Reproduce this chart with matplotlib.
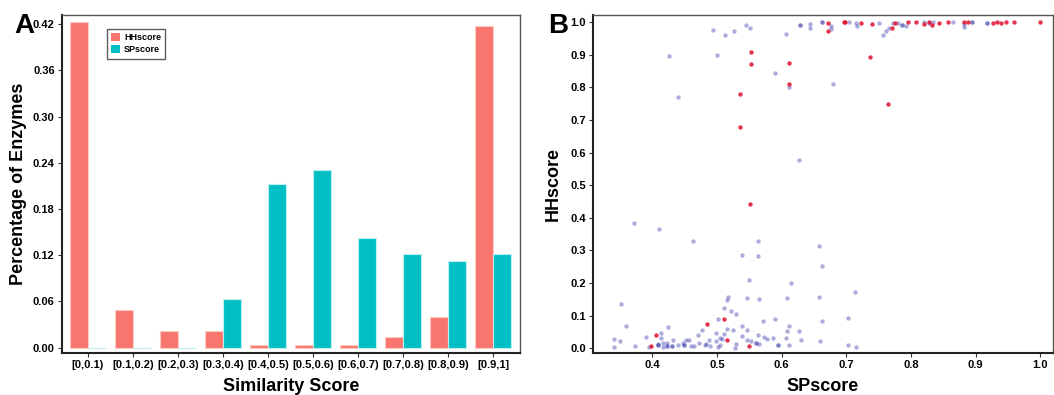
import matplotlib
matplotlib.use("Agg")
import matplotlib.pyplot as plt
import numpy as np
from matplotlib.patches import Patch

plt.rcParams['font.family'] = ['Liberation Sans Narrow', 'Liberation Sans', 'DejaVu Sans']
plt.rcParams['font.weight'] = 'bold'

# ---------------- Panel A data ----------------
categories = ["[0,0.1)", "[0.1,0.2)", "[0.2,0.3)", "[0.3,0.4)", "[0.4,0.5)",
              "[0.5,0.6)", "[0.6,0.7)", "[0.7,0.8)", "[0.8,0.9)", "[0.9,1]"]
hh_pct = [0.423, 0.049, 0.022, 0.022, 0.004, 0.004, 0.004, 0.0135, 0.040, 0.418]
sp_pct = [0.0, 0.0, 0.0, 0.063, 0.212, 0.230, 0.143, 0.121, 0.112, 0.121]
yticks_a = [0.00, 0.06, 0.12, 0.18, 0.24, 0.30, 0.36, 0.42]

# ---------------- Panel B data ----------------
# blue (light) points: SPscore, HHscore
blue_sp = [0.426, 0.440, 0.494, 0.500, 0.513, 0.526, 0.545, 0.551, 0.590, 0.606,
           0.611, 0.626, 0.628, 0.628, 0.643, 0.643, 0.663, 0.663, 0.676, 0.676,
           0.680, 0.704, 0.715, 0.716, 0.751, 0.757, 0.762, 0.766, 0.772, 0.780,
           0.786, 0.786, 0.792, 0.820, 0.828, 0.834, 0.865, 0.882, 0.882, 0.895,
           0.895, 0.917, 0.917,
           0.371, 0.410, 0.462, 0.539, 0.563, 0.563, 0.657, 0.663, 0.549, 0.614,
           0.713, 0.352, 0.517, 0.516, 0.546, 0.565, 0.608, 0.657, 0.510, 0.522,
           0.529, 0.501, 0.589, 0.703, 0.663, 0.571, 0.359, 0.424, 0.538, 0.611,
           0.477, 0.516, 0.524, 0.547, 0.608, 0.626, 0.414, 0.470, 0.499, 0.511,
           0.563, 0.539, 0.572, 0.390, 0.413, 0.504, 0.507, 0.577, 0.587, 0.606,
           0.630, 0.341, 0.350, 0.432, 0.452, 0.456, 0.487, 0.498, 0.546, 0.552,
           0.660, 0.423, 0.447, 0.417, 0.409, 0.472, 0.529, 0.565, 0.560, 0.560,
           0.341, 0.373, 0.394, 0.409, 0.409, 0.422, 0.422, 0.431, 0.431, 0.439,
           0.449, 0.449, 0.459, 0.464, 0.481, 0.483, 0.501, 0.504, 0.528, 0.594,
           0.594, 0.612, 0.703, 0.715, 0.489, 0.416]
blue_hh = [0.896, 0.770, 0.975, 0.899, 0.961, 0.973, 0.991, 0.983, 0.845, 0.963,
           0.802, 0.577, 0.991, 0.991, 0.993, 0.982, 1.000, 1.000, 0.989, 0.978,
           0.809, 1.000, 0.996, 0.989, 0.999, 0.961, 0.972, 0.983, 0.999, 0.999,
           0.990, 0.990, 0.988, 1.000, 0.998, 1.000, 1.000, 0.993, 0.986, 1.000,
           1.000, 0.999, 0.999,
           0.383, 0.365, 0.328, 0.286, 0.329, 0.282, 0.313, 0.251, 0.209, 0.201,
           0.173, 0.136, 0.157, 0.149, 0.154, 0.151, 0.153, 0.157, 0.124, 0.113,
           0.105, 0.091, 0.091, 0.093, 0.084, 0.083, 0.067, 0.064, 0.069, 0.070,
           0.056, 0.059, 0.057, 0.055, 0.054, 0.054, 0.047, 0.041, 0.046, 0.043,
           0.041, 0.037, 0.035, 0.035, 0.033, 0.033, 0.028, 0.028, 0.031, 0.032,
           0.026, 0.028, 0.023, 0.026, 0.026, 0.026, 0.026, 0.021, 0.026, 0.022,
           0.021, 0.017, 0.017, 0.016, 0.014, 0.015, 0.013, 0.012, 0.015, 0.015,
           0.005, 0.007, 0.005, 0.009, 0.009, 0.007, 0.007, 0.007, 0.007, 0.009,
           0.010, 0.010, 0.007, 0.008, 0.009, 0.012, 0.005, 0.009, 0.002, 0.009,
           0.009, 0.009, 0.009, 0.003, 0.007, 0.003]
# red points: SPscore, HHscore
red_sp = [0.553, 0.553, 0.536, 0.536, 0.612, 0.612, 0.671, 0.671, 0.696, 0.698,
          0.722, 0.740, 0.736, 0.765, 0.771, 0.775, 0.795, 0.808, 0.820, 0.828,
          0.832, 0.844, 0.857, 0.882, 0.888, 0.927, 0.933, 0.940, 0.947, 0.959,
          1.000, 0.551, 0.405, 0.398, 0.485, 0.511, 0.515, 0.549]
red_hh = [0.910, 0.872, 0.780, 0.679, 0.876, 0.809, 0.996, 0.974, 1.000, 1.000,
          0.998, 0.993, 0.892, 0.748, 0.981, 0.998, 1.000, 1.000, 0.995, 1.000,
          0.991, 0.999, 1.000, 1.000, 1.000, 0.999, 1.000, 0.999, 1.000, 1.000,
          1.000, 0.442, 0.042, 0.007, 0.075, 0.089, 0.025, 0.008]

HH_COLOR = "#F8766D"
SP_COLOR = "#00BFC4"

fig = plt.figure(figsize=(10.54, 3.95), dpi=100)

# ---------------- Panel A ----------------
axA = fig.add_axes([0.0585, 0.107, 0.4349, 0.855])
x = np.arange(len(categories))
w = 0.4
axA.bar(x - w / 2, hh_pct, width=w, color=HH_COLOR, edgecolor="#FCC9C5", linewidth=0.8, label="HHscore")
axA.bar(x + w / 2, sp_pct, width=w, color=SP_COLOR, edgecolor="#BDEEF0", linewidth=0.8, label="SPscore")
axA.set_xlim(-0.58, 9.6)
axA.set_ylim(-0.0065, 0.4317)
axA.set_yticks(yticks_a)
axA.set_yticklabels([f"{v:.2f}" for v in yticks_a], fontsize=8, fontweight='bold')
axA.set_xticks(x)
axA.set_xticklabels(categories, fontsize=8, fontweight='bold')
axA.set_xlabel("Similarity Score", fontsize=13, fontweight='bold', labelpad=6)
axA.set_ylabel("Percentage of Enzymes", fontsize=13, fontweight='bold', labelpad=4)
handles = [Patch(facecolor=HH_COLOR, edgecolor='none'), Patch(facecolor=SP_COLOR, edgecolor='none')]
leg = axA.legend(handles, ["HHscore", "SPscore"], loc="upper left", bbox_to_anchor=(0.088, 0.972),
                 prop={'size': 6.5, 'weight': 'bold'}, frameon=True, fancybox=False,
                 handlelength=1.0, handleheight=1.0, borderpad=0.45, labelspacing=0.35,
                 handletextpad=0.5)
leg.get_frame().set_edgecolor("#333333")
leg.get_frame().set_linewidth(1.0)

# ---------------- Panel B ----------------
axB = fig.add_axes([0.5626, 0.107, 0.436, 0.855])
axB.scatter(blue_sp, blue_hh, s=10, color="#3232AA", alpha=0.4, linewidths=0, zorder=2)
axB.scatter(red_sp, red_hh, s=10, color="#E0102F", alpha=0.85, linewidths=0, zorder=3)
axB.set_xlim(0.308, 1.019)
axB.set_ylim(-0.0135, 1.022)
xt = [0.4, 0.5, 0.6, 0.7, 0.8, 0.9, 1.0]
yt = [0.0, 0.1, 0.2, 0.3, 0.4, 0.5, 0.6, 0.7, 0.8, 0.9, 1.0]
axB.set_xticks(xt)
axB.set_xticklabels([f"{v:.1f}" for v in xt], fontsize=8, fontweight='bold')
axB.set_yticks(yt)
axB.set_yticklabels([f"{v:.1f}" for v in yt], fontsize=8, fontweight='bold')
axB.set_xlabel("SPscore", fontsize=13, fontweight='bold', labelpad=6)
axB.set_ylabel("HHscore", fontsize=13, fontweight='bold', labelpad=6)

for ax in (axA, axB):
    for side in ("top", "right"):
        ax.spines[side].set_color("#555555")
        ax.spines[side].set_linewidth(1.0)
    for side in ("left", "bottom"):
        ax.spines[side].set_color("#222222")
        ax.spines[side].set_linewidth(1.5)
    ax.tick_params(length=3, width=0.8, color="#333333", pad=2)

fig.text(0.014, 0.935, "A", fontsize=20, fontweight='bold', ha='left', va='center')
fig.text(0.520, 0.935, "B", fontsize=20, fontweight='bold', ha='left', va='center')

fig.savefig("out.png", dpi=100)
